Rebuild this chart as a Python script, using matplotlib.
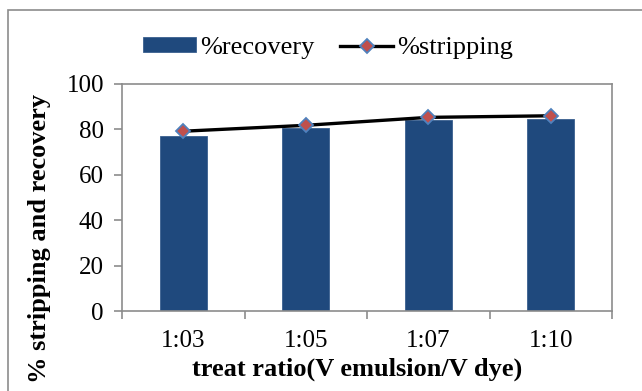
import matplotlib
matplotlib.use("Agg")
import matplotlib.pyplot as plt
from matplotlib.patches import Rectangle
import numpy as np

plt.rcParams['font.family'] = ['Liberation Serif', 'DejaVu Serif']

categories = ["1:03", "1:05", "1:07", "1:10"]
recovery = [77.0, 80.5, 84.0, 84.5]
stripping = [79.2, 81.8, 85.3, 86.0]

W, H = 642, 391
fig = plt.figure(figsize=(W / 100, H / 100), dpi=100)

# outer chart frame
fig.patches.append(Rectangle((8 / W, -0.1), 1.2, 1 - 10 / H + 0.1,
                             transform=fig.transFigure, fill=False,
                             edgecolor='#8c8c8c', linewidth=1.2))

ax = fig.add_axes([122 / W, (H - 311) / H, 490 / W, (311 - 84) / H])
x = np.arange(len(categories))

bars = ax.bar(x, recovery, width=0.38, color='#1F497D', edgecolor='#3a5f8f',
              linewidth=0.6, label='%recovery', zorder=2)
line, = ax.plot(x, stripping, color='black', linewidth=2.4, marker='D',
                markersize=7.5, markerfacecolor='#C0504D',
                markeredgecolor='#4F81BD', markeredgewidth=1.3,
                label='%stripping', zorder=3)

ax.set_xlim(-0.5, len(categories) - 0.5)
ax.set_ylim(0, 100)
ax.set_yticks(range(0, 101, 20))
ax.set_xticks(x)
ax.set_xticklabels(categories)
ax.set_xticks(np.arange(-0.5, len(categories), 1.0), minor=True)
ax.tick_params(axis='x', which='major', length=0, labelsize=18, pad=14)
ax.tick_params(axis='x', which='minor', length=6, color='#8c8c8c', width=1.2)
ax.tick_params(axis='y', length=6, color='#8c8c8c', width=1.2, labelsize=18, pad=7)

for side in ['left', 'bottom', 'right', 'top']:
    ax.spines[side].set_color('#8c8c8c')
    ax.spines[side].set_linewidth(1.2)

xl = ax.set_xlabel('treat ratio(V emulsion/V dye)', fontsize=19,
                   fontweight='bold')
xl.set_va('center')
ax.xaxis.set_label_coords(0.48, -0.255)

yl = ax.set_ylabel('% stripping and recovery', fontsize=19, fontweight='bold')
yl.set_va('center')
ax.yaxis.set_label_coords(-0.169, 0.32)

fig.legend(handles=[bars, line], labels=['%recovery', '%stripping'],
           loc='center', bbox_to_anchor=(328 / W, 1 - 48 / H), ncol=2,
           frameon=False, fontsize=19, handlelength=2.0, handleheight=0.5,
           handletextpad=0.15, columnspacing=1.0)

fig.savefig('out.png', dpi=100)
